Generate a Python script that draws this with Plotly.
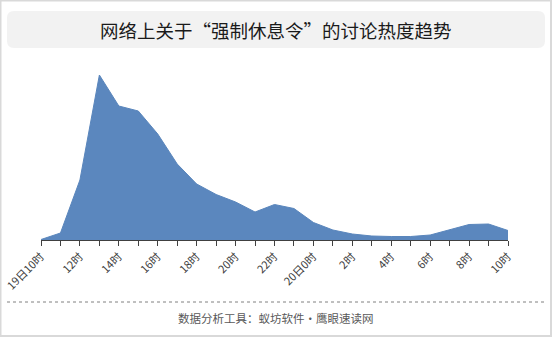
import plotly.graph_objects as go

W, H = 552, 337

hours = ["19日10时", "11时", "12时", "13时", "14时", "15时", "16时", "17时", "18时",
         "19时", "20时", "21时", "22时", "23时", "20日0时", "1时", "2时", "3时",
         "4时", "5时", "6时", "7时", "8时", "9时", "10时"]
heat = [0.5, 7, 60, 165, 134, 129, 106, 76, 56, 45.5, 38, 28, 35.5, 31.5,
        17.5, 10, 6, 4, 3.5, 3.5, 5, 10, 15.5, 16, 9.5]
tick_text = [h if i % 2 == 0 else "" for i, h in enumerate(hours)]

title_text = "网络上关于“强制休息令”的讨论热度趋势"
footer_text = "数据分析工具：蚁坊软件·鹰眼速读网"

FONT = "Noto Sans CJK SC"

def px(x):
    return x / W

def py(y):
    return (H - y) / H

xs = list(range(len(hours)))

fig = go.Figure()
fig.add_trace(go.Scatter(
    x=xs, y=heat, mode="lines", fill="tozeroy",
    fillcolor="#5b87be", line=dict(color="#5a86bc", width=1),
    hoverinfo="skip", showlegend=False,
))

shapes = [
    # outer border
    dict(type="rect", xref="paper", yref="paper", x0=px(0.5), x1=px(W - 1), y0=py(H - 1), y1=py(0.5),
         line=dict(color="#d9d9d9", width=2), fillcolor="rgba(0,0,0,0)", layer="below"),
    # title box (rounded)
    dict(type="path", xref="paper", yref="paper",
         path=("M {a},{t} L {b},{t} Q {r},{t} {r},{t2} L {r},{b2} Q {r},{bt} {b},{bt} "
               "L {a},{bt} Q {l},{bt} {l},{b2} L {l},{t2} Q {l},{t} {a},{t} Z").format(
             l=px(7), r=px(545), a=px(14), b=px(538), t=py(11), t2=py(18), b2=py(41), bt=py(48)),
         fillcolor="#f2f2f2", line=dict(width=0), layer="below"),
    # dotted separator
    dict(type="line", xref="paper", yref="paper", x0=px(7), x1=px(546), y0=py(302), y1=py(302),
         line=dict(color="#808080", width=1, dash="dot")),
]

annotations = [
    dict(text=title_text, xref="paper", yref="paper", x=px(276), y=py(30),
         xanchor="center", yanchor="middle", showarrow=False,
         font=dict(family=FONT, size=18.5, color="#1a1a1a")),
    dict(text=footer_text, xref="paper", yref="paper", x=px(276), y=py(318),
         xanchor="center", yanchor="middle", showarrow=False,
         font=dict(family=FONT, size=11.5, color="#595959")),
]

fig.update_layout(
    width=W, height=H,
    margin=dict(l=0, r=0, t=0, b=0, autoexpand=False),
    paper_bgcolor="white", plot_bgcolor="rgba(0,0,0,0)",
    shapes=shapes, annotations=annotations,
    xaxis=dict(domain=[px(41), px(508)], range=[0, len(hours) - 1], automargin=False,
               tickmode="array", tickvals=xs, ticktext=tick_text,
               tickangle=-45, ticks="outside", ticklen=5, tickcolor="#404040",
               showline=True, linecolor="#404040", linewidth=1,
               showgrid=False, zeroline=False,
               tickfont=dict(family=FONT, size=11, color="#404040")),
    yaxis=dict(domain=[py(240), py(60)], range=[0, 180], visible=False,
               showgrid=False, zeroline=False, automargin=False),
)

fig.write_html("out.html")
